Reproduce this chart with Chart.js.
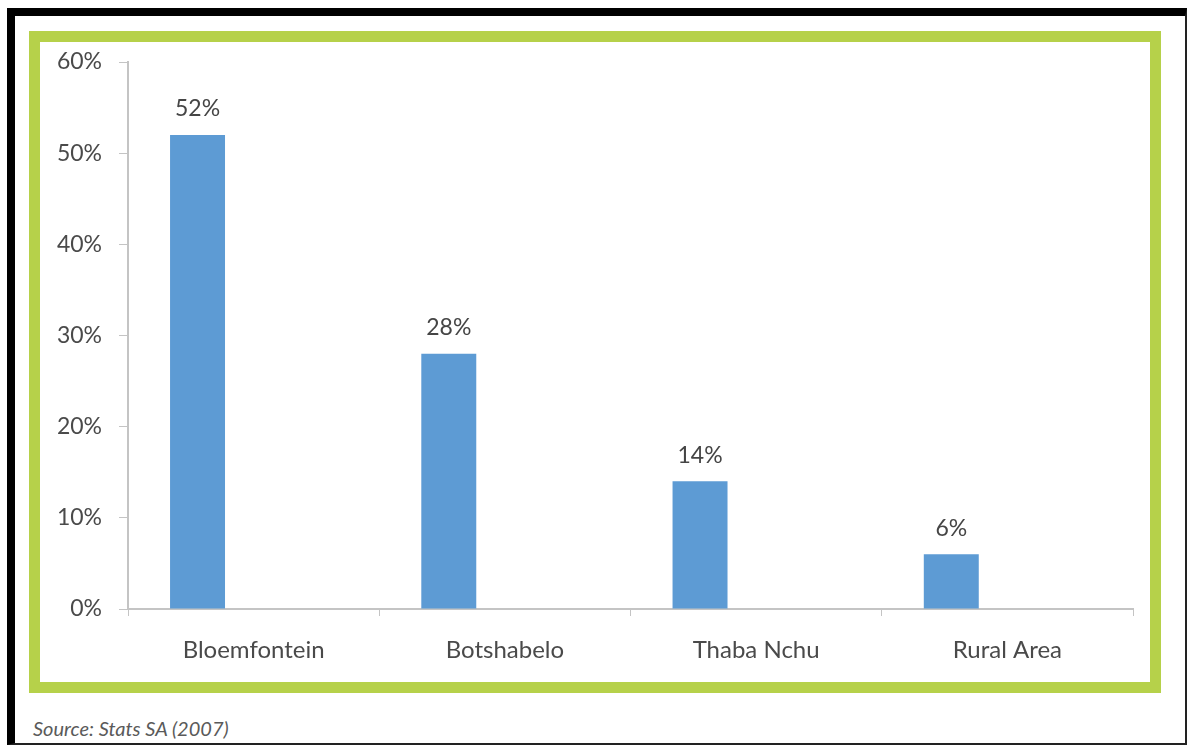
<!DOCTYPE html>
<html>
<head>
<meta charset="utf-8">
<title>Population by area</title>
<script src="https://cdn.jsdelivr.net/npm/chart.js@4.4.0/dist/chart.umd.min.js"></script>
<style>
  html, body {
    margin: 0;
    padding: 0;
    background: #ffffff;
    width: 1188px;
    height: 747px;
    overflow: hidden;
    font-family: Lato, "Open Sans", sans-serif;
  }
  /* heavy black rule on top/left, thin on right/bottom */
  .outer {
    position: absolute;
    left: 7px;
    top: 8px;
    width: 1170px;
    height: 727px;
    border-top: 8px solid #000;
    border-left: 8px solid #000;
    border-right: 2px solid #222;
    border-bottom: 2px solid #222;
    background: #fff;
  }
  .frame {
    position: absolute;
    left: 29px;
    top: 31px;
    width: 1110px;
    height: 640px;
    border: 11px solid #b6d14a;
    background: #fff;
  }
  #chart {
    position: absolute;
    left: 0;
    top: 0;
  }
  .source {
    position: absolute;
    left: 33px;
    top: 716px;
    font-style: italic;
    font-size: 20px;
    color: #5a5a5a;
  }
</style>
</head>
<body>
<div class="outer"></div>
<div class="frame">
  <canvas id="chart" width="1110" height="640"></canvas>
</div>
<div class="source">Source: Stats SA (2007)</div>

<script>
const areas = ["Bloemfontein", "Botshabelo", "Thaba Nchu", "Rural Area"];
const shares = [52, 28, 14, 6];
// second slot left empty, keeps the bars on the left half of each category
const emptySlot = [null, null, null, null];
const yTicks = [0, 10, 20, 30, 40, 50, 60];

const BAR_COLOR = "#5d9bd4";
const AXIS_COLOR = "#c4c4c4";
const TEXT_COLOR = "#4a4a4a";
const FONT = "Lato, 'Open Sans', sans-serif";

/* ===============================
   VALUE LABELS ABOVE BARS
================================ */
const valueLabels = {
  id: "valueLabels",
  afterDatasetsDraw(chart) {
    const ctx = chart.ctx;
    const meta = chart.getDatasetMeta(0);
    ctx.save();
    ctx.font = "23px " + FONT;
    ctx.fillStyle = "#454545";
    ctx.textAlign = "center";
    ctx.textBaseline = "middle";
    meta.data.forEach((bar, i) => {
      ctx.fillText(shares[i] + "%", bar.x, bar.y - 26);
    });
    ctx.restore();
  }
};

/* ===============================
   CHART
================================ */
new Chart(document.getElementById("chart"), {
  type: "bar",
  data: {
    labels: areas,
    datasets: [
      {
        data: shares,
        backgroundColor: BAR_COLOR,
        categoryPercentage: 0.893,
        barPercentage: 0.49
      },
      {
        data: emptySlot,
        backgroundColor: BAR_COLOR,
        categoryPercentage: 0.893,
        barPercentage: 0.49
      }
    ]
  },
  options: {
    responsive: false,
    animation: false,
    layout: { padding: { top: 20, right: 17, left: 0, bottom: 0 } },
    plugins: {
      legend: { display: false },
      tooltip: { enabled: false }
    },
    scales: {
      x: {
        grid: {
          drawOnChartArea: false,
          drawTicks: true,
          tickLength: 7,
          color: AXIS_COLOR
        },
        border: { color: AXIS_COLOR, width: 2 },
        ticks: {
          color: TEXT_COLOR,
          font: { family: FONT, size: 24 },
          padding: 20
        },
        afterFit(scale) {
          scale.height = 73;
          scale.paddingLeft = 0;
          scale.paddingRight = 0;
        }
      },
      y: {
        min: 0,
        max: 60,
        afterBuildTicks(scale) {
          scale.ticks = yTicks.map(v => ({ value: v }));
        },
        grid: {
          drawOnChartArea: false,
          drawTicks: true,
          tickLength: 9,
          color: AXIS_COLOR
        },
        border: { color: AXIS_COLOR, width: 2 },
        ticks: {
          color: TEXT_COLOR,
          font: { family: FONT, size: 23 },
          padding: 17,
          callback: v => v + "%"
        },
        afterFit(scale) {
          scale.width = 88;
          scale.paddingTop = 0;
          scale.paddingBottom = 0;
        }
      }
    }
  },
  plugins: [valueLabels]
});
</script>
</body>
</html>
